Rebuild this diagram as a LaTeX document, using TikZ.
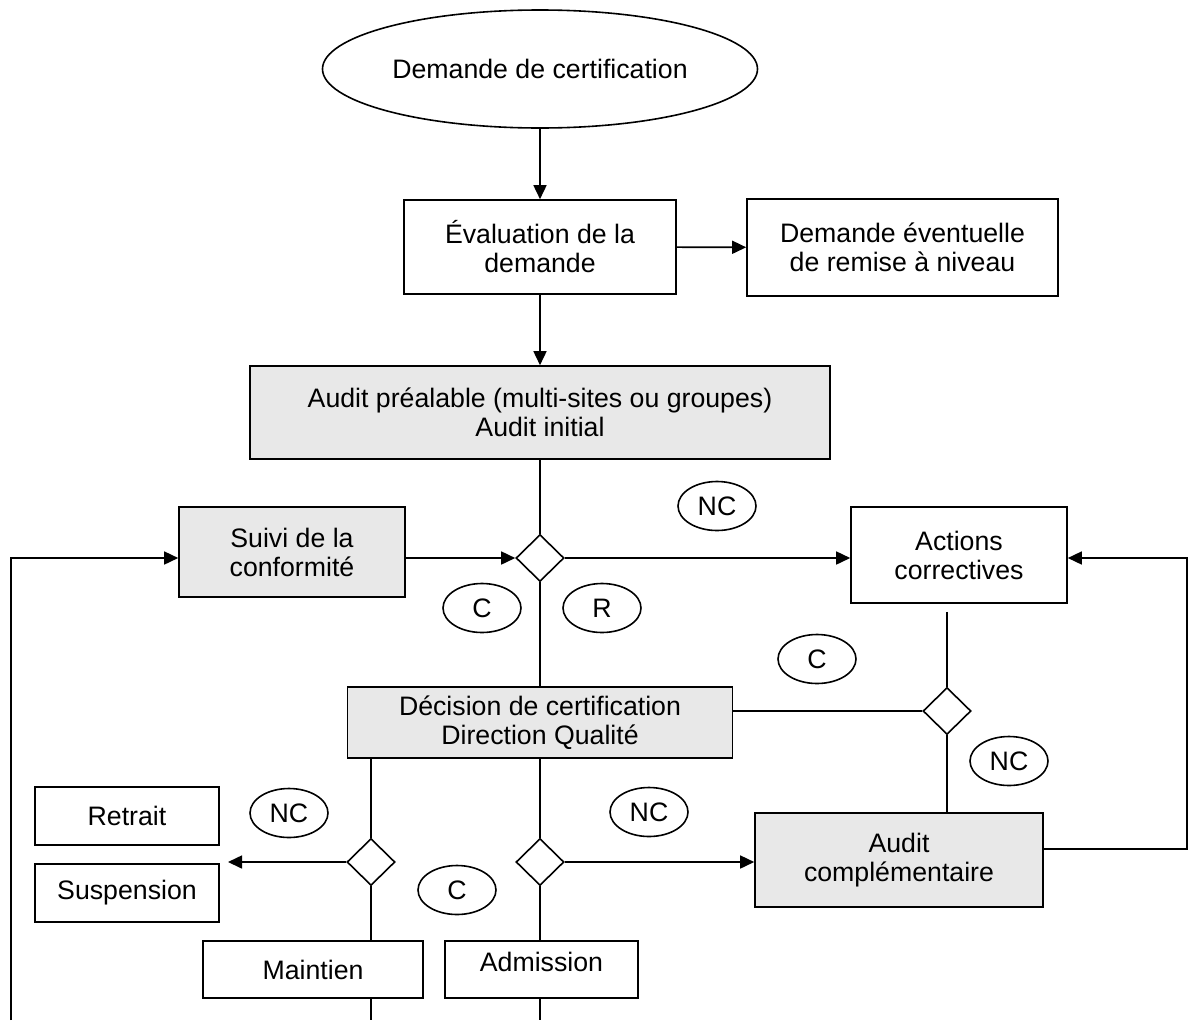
\documentclass[tikz,border=0pt]{standalone}
\usepackage{fontspec}
\setmainfont{Liberation Sans}
\usetikzlibrary{shapes.geometric,arrows.meta,calc}
\definecolor{boxgray}{RGB}{232,232,232}
\tikzset{
  every node/.style={font=\fontsize{26.7}{29}\selectfont},
  base/.style={draw=black,line width=1.6pt,inner sep=0pt,align=center},
  wbox/.style={base,rectangle,fill=white},
  gbox/.style={base,rectangle,fill=boxgray},
  dia/.style={base,diamond,fill=white,minimum width=48pt,minimum height=47pt},
  tag/.style={base,ellipse,fill=white,minimum width=78pt,minimum height=49pt},
  conn/.style={line width=1.6pt},
  arr/.style={line width=1.6pt,-{Triangle[length=14pt,width=13pt]}}
}
\begin{document}
\begin{tikzpicture}[x=1pt,y=-1pt]
\useasboundingbox (0,0) rectangle (1193,1020);
% nodes
\node[base,ellipse,minimum width=435pt,minimum height=118pt] (start) at (540,69) {Demande de certification};
\node[wbox,minimum width=272pt,minimum height=94pt] (eval) at (540,247) {Évaluation de la\\demande};
\node[wbox,minimum width=311pt,minimum height=97pt] (de) at (902.5,247.5) {Demande éventuelle\\de remise à niveau};
\node[gbox,minimum width=580pt,minimum height=93pt] (audit) at (540,412.5) {Audit préalable (multi-sites ou groupes)\\Audit initial};
\node[gbox,minimum width=226pt,minimum height=90pt] (suivi) at (292,552) {Suivi de la\\conformité};
\node[wbox,minimum width=216pt,minimum height=96pt] (act) at (959,555) {Actions\\correctives};
\node[gbox,minimum width=385pt,minimum height=71pt] (dec) at (540,722.5) {Décision de certification\\Direction Qualité};
\node[gbox,minimum width=288pt,minimum height=94pt] (ac) at (899,860) {Audit\\complémentaire};
\node[wbox,minimum width=184pt,minimum height=58pt] (retrait) at (127,816) {Retrait};
\node[wbox,minimum width=184pt,minimum height=58pt] (susp) at (127,893) {Suspension};
\node[wbox,minimum width=220pt,minimum height=57pt] (maint) at (313,969.5) {Maintien};
\node[wbox,minimum width=193pt,minimum height=57pt,label={[yshift=8pt]center:Admission}] (adm) at (541.5,969.5) {};
% decisions
\node[dia] (d1) at (540,558) {};
\node[dia] (d2) at (947,711) {};
\node[dia] (d3) at (371,862) {};
\node[dia] (d4) at (540,862) {};
% tags
\node[tag] (nc1) at (717,506) {NC};
\node[tag] (c1) at (482,608) {C};
\node[tag] (r1) at (602,608) {R};
\node[tag] (c2) at (817,659) {C};
\node[tag] (nc2) at (1009,761) {NC};
\node[tag] (nc3) at (289,813) {NC};
\node[tag] (nc4) at (649,812) {NC};
\node[tag] (c3) at (457,890) {C};
% free ends
\coordinate (suspend) at (228,862);
\coordinate (leftbot) at (11,1020);
\coordinate (maintbot) at (371,1020);
\coordinate (admbot) at (540,1020);
\coordinate (rightx) at (1187,849);
% connectors
\draw[arr] (start) -- (eval);
\draw[arr] (eval) -- (de);
\draw[arr] (eval) -- (audit);
\draw[conn] (audit) -- (d1.north);
\draw[arr] (suivi.east |- d1.west) -- (d1.west);
\draw[arr] (d1.east) -- (act.west |- d1.east);
\draw[conn] (d1.south) -- (dec.north -| d1.south);
\draw[conn] ($(d2.north |- act.south)+(0,8)$) -- (d2.north);
\draw[conn] (dec.east |- d2.west) -- (d2.west);
\draw[conn] (d2.south) -- (d2.south |- ac.north);
\draw[conn] (d3.north |- dec.south) -- (d3.north);
\draw[conn] (d4.north |- dec.south) -- (d4.north);
\draw[arr] (d3.west) -- (suspend);
\draw[arr] (d4.east) -- (ac.west |- d4.east);
\draw[conn] (d3.south) -- (d3.south |- maint.north);
\draw[conn] (d4.south) -- (d4.south |- adm.north);
\draw[conn] (maint.south -| maintbot) -- (maintbot);
\draw[conn] (adm.south -| admbot) -- (admbot);
\draw[arr] (leftbot) |- (suivi.west |- d1.west);
\draw[arr] (ac.east |- rightx) -- (rightx) |- (act.east |- d1.east);
\end{tikzpicture}
\end{document}
